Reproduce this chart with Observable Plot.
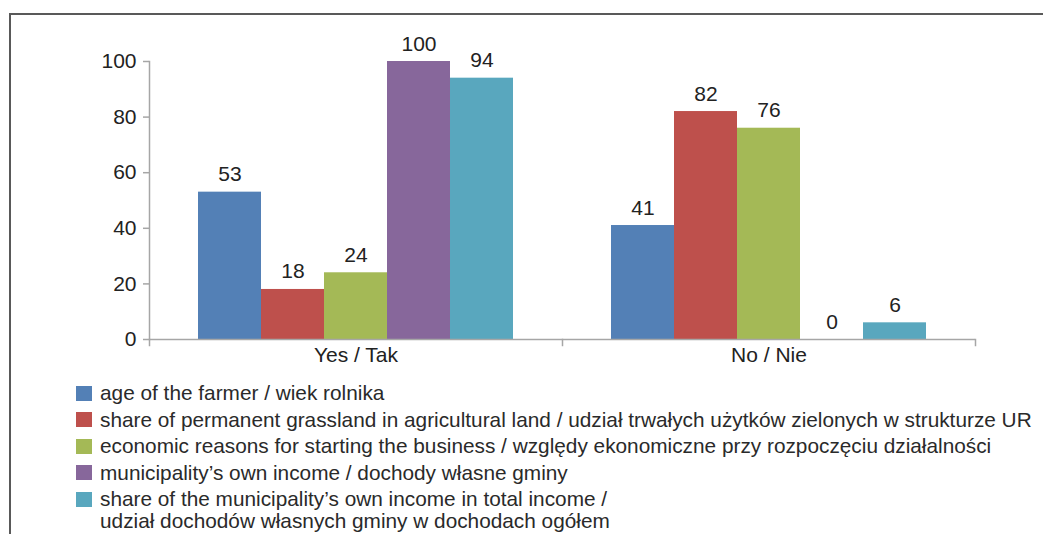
<!DOCTYPE html>
<html>
<head>
<meta charset="utf-8">
<script src="https://cdn.jsdelivr.net/npm/d3@7"></script>
<script src="https://cdn.jsdelivr.net/npm/@observablehq/plot@0.6"></script>
<style>
  html, body { margin: 0; padding: 0; background: #fff; }
  body { width: 1043px; height: 534px; overflow: hidden; position: relative;
         font-family: "Liberation Sans", Arial, Helvetica, sans-serif; }
  #frame { position: absolute; left: 9px; top: 13px; width: 1200px; height: 700px;
           border-left: 2px solid #595959; border-top: 2px solid #595959; }
  #chart { position: absolute; left: 0; top: 0; }
  #legend { position: absolute; left: 76px; top: 382px; font-size: 20.8px; color: #2a2a2a; }
  .row { display: flex; align-items: flex-start; height: 26.6px; }
  .sw { width: 16px; height: 15px; margin-top: 3.5px; margin-right: 8px; flex: none; }
  .lbl { line-height: 22px; white-space: nowrap; }
</style>
</head>
<body>
<div id="frame"></div>
<div id="chart"></div>
<div id="legend"></div>
<script>
const categories = ["Yes / Tak", "No / Nie"];
const series = [
  "age of the farmer / wiek rolnika",
  "share of permanent grassland in agricultural land / udział trwałych użytków zielonych w strukturze UR",
  "economic reasons for starting the business / względy ekonomiczne przy rozpoczęciu działalności",
  "municipality’s own income / dochody własne gminy",
  "share of the municipality’s own income in total income /\nudział dochodów własnych gminy w dochodach ogółem"
];
const yesValues = [53, 18, 24, 100, 94];
const noValues = [41, 82, 76, 0, 6];
const colors = ["#5380b6", "#be504c", "#a4b956", "#87679b", "#59a7be"];
const yTicks = [0, 20, 40, 60, 80, 100];

const data = [];
categories.forEach((c, ci) => {
  const vals = ci === 0 ? yesValues : noValues;
  series.forEach((s, si) => data.push({cat: c, series: s, value: vals[si]}));
});

const W = 1043, H = 380, mt = 61, mb = 41;
const innerH = H - mt - mb;
const FS = 21;

const plot = Plot.plot({
  width: W,
  height: H,
  marginLeft: 148,
  marginRight: 68,
  marginTop: mt,
  marginBottom: mb,
  style: {fontFamily: "'Liberation Sans', Arial, Helvetica, sans-serif", fontSize: FS + "px", color: "#222", background: "transparent"},
  fx: {domain: categories, padding: 0, axis: null},
  x: {domain: series, paddingInner: 0, paddingOuter: 0.77, axis: null},
  y: {domain: [0, 100], axis: null},
  color: {domain: series, range: colors},
  marks: [
    Plot.barY(data, {fx: "cat", x: "series", y: "value", fill: "series"}),
    Plot.text(data, {fx: "cat", x: "series", y: "value", text: d => String(d.value),
      lineAnchor: "bottom", dy: -11, fontSize: FS, fill: "#222"}),
    Plot.ruleY([0], {stroke: "#a6a6a6", strokeWidth: 1.5}),
    Plot.frame({anchor: "left", facetAnchor: "left", stroke: "#a6a6a6", strokeWidth: 1.5}),
    Plot.frame({anchor: "left", stroke: "#a6a6a6", strokeWidth: 1.5, insetTop: innerH, insetBottom: -6}),
    Plot.frame({anchor: "right", facetAnchor: "right", stroke: "#a6a6a6", strokeWidth: 1.5, insetTop: innerH, insetBottom: -6}),
    Plot.axisY({ticks: yTicks, tickSize: 6, tickPadding: 7, label: null, fontSize: FS,
      stroke: "#a6a6a6", fill: "#222", strokeWidth: 1.5}),
    Plot.axisFx({anchor: "bottom", tickSize: 0, tickPadding: 8, label: null, fontSize: FS, fill: "#222"})
  ]
});
document.getElementById("chart").appendChild(plot);

const legend = document.getElementById("legend");
series.forEach((s, i) => {
  const row = document.createElement("div");
  row.className = "row";
  const sw = document.createElement("div");
  sw.className = "sw";
  sw.style.background = colors[i];
  const lbl = document.createElement("div");
  lbl.className = "lbl";
  lbl.innerHTML = s.split("\n").join("<br>");
  row.appendChild(sw);
  row.appendChild(lbl);
  legend.appendChild(row);
});
</script>
</body>
</html>
